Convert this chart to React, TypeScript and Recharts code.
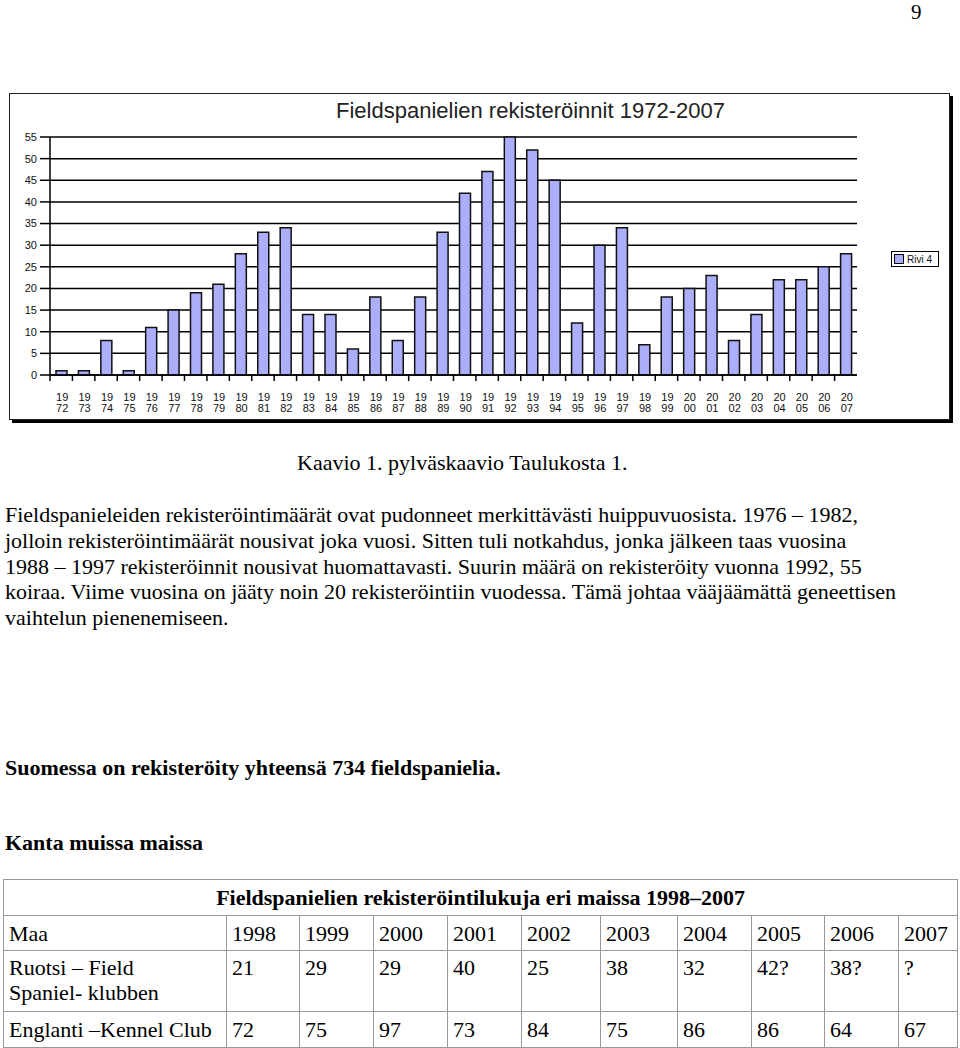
import React from "react";
import { BarChart, Bar, XAxis, YAxis, CartesianGrid, Legend } from "recharts";

const years = [
  "1972", "1973", "1974", "1975", "1976", "1977", "1978", "1979", "1980",
  "1981", "1982", "1983", "1984", "1985", "1986", "1987", "1988", "1989",
  "1990", "1991", "1992", "1993", "1994", "1995", "1996", "1997", "1998",
  "1999", "2000", "2001", "2002", "2003", "2004", "2005", "2006", "2007",
];
const registrations = [
  1, 1, 8, 1, 11, 15, 19, 21, 28, 33, 34, 14, 14, 6, 18, 8, 18, 33,
  42, 47, 55, 52, 45, 12, 30, 34, 7, 18, 20, 23, 8, 14, 22, 22, 25, 28,
];
const yTicks = [0, 5, 10, 15, 20, 25, 30, 35, 40, 45, 50, 55];

const tableYears = ["1998", "1999", "2000", "2001", "2002", "2003", "2004", "2005", "2006", "2007"];
const swedenValues = ["21", "29", "29", "40", "25", "38", "32", "42?", "38?", "?"];
const englandValues = ["72", "75", "97", "73", "84", "75", "86", "86", "64", "67"];
const colWidths = [223, 73, 74, 74, 74, 79, 77, 74, 73, 74, 59];

const chartData = years.map((y, i) => ({ year: y, value: registrations[i] }));

const SANS = '"Liberation Sans", Arial, sans-serif';
const SERIF = '"Liberation Serif", "Times New Roman", serif';
const BAR_FILL = "#abaffa";

const YearTick = (props: any) => {
  const { x, y, payload } = props;
  const half = payload && payload.offset ? payload.offset : 11.2;
  const s = String(payload.value);
  return (
    <g>
      <line x1={x - half} x2={x - half} y1={y} y2={y + 6} stroke="#000" strokeWidth={1.5} />
      <text x={x + 1} y={y + 22} textAnchor="middle" dominantBaseline="central" fontSize={11} fontFamily={SANS} fill="#111">
        {s.slice(0, 2)}
      </text>
      <text x={x + 1} y={y + 33} textAnchor="middle" dominantBaseline="central" fontSize={11} fontFamily={SANS} fill="#111">
        {s.slice(2)}
      </text>
    </g>
  );
};

const LegendBox = () => (
  <div
    style={{
      display: "flex",
      alignItems: "center",
      border: "1px solid #000",
      background: "#fff",
      height: 14,
      padding: "0 2px",
      fontFamily: SANS,
      fontSize: 10,
      color: "#111",
      whiteSpace: "nowrap",
    }}
  >
    <span style={{ display: "inline-block", width: 8, height: 8, background: BAR_FILL, border: "1px solid #000", marginRight: 3 }} />
    Rivi 4
  </div>
);

const paragraph = [
  "Fieldspanieleiden rekisteröintimäärät ovat pudonneet merkittävästi huippuvuosista. 1976 – 1982,",
  "jolloin rekisteröintimäärät nousivat joka vuosi. Sitten tuli notkahdus, jonka jälkeen taas vuosina",
  "1988 – 1997 rekisteröinnit nousivat huomattavasti. Suurin määrä on rekisteröity vuonna 1992, 55",
  "koiraa. Viime vuosina on jääty noin 20 rekisteröintiin vuodessa. Tämä johtaa vääjäämättä geneettisen",
  "vaihtelun pienenemiseen.",
];

const cell: React.CSSProperties = {
  border: "1px solid #999",
  padding: "0 0 0 5px",
  verticalAlign: "middle",
  textAlign: "left",
  whiteSpace: "nowrap",
};

export default function App() {
  return (
    <div
      style={{
        position: "absolute",
        left: 0,
        top: 0,
        width: 960,
        height: 1048,
        overflow: "hidden",
        background: "#fff",
        fontFamily: SERIF,
        fontSize: 22,
        color: "#000",
      }}
    >
      <div style={{ position: "absolute", left: 911, top: 0, fontSize: 21, lineHeight: "normal" }}>9</div>

      {/* chart frame */}
      <div
        style={{
          position: "absolute",
          left: 9,
          top: 93,
          width: 939,
          height: 325,
          border: "1px solid #222",
          boxShadow: "3px 3px 0 #000",
          background: "#fff",
        }}
      >
        <div
          style={{
            position: "absolute",
            left: 326,
            top: 4,
            fontFamily: SANS,
            fontSize: 22,
            lineHeight: "26px",
            color: "#222",
            whiteSpace: "nowrap",
          }}
        >
          Fieldspanielien rekisteröinnit 1972-2007
        </div>
        <BarChart width={939} height={325} data={chartData} margin={{ top: 43, right: 92, left: 10, bottom: 6 }}>
          <CartesianGrid horizontal vertical={false} stroke="#000" strokeWidth={1.5} />
          <XAxis
            dataKey="year"
            interval={0}
            height={38}
            tickSize={0}
            tickMargin={0}
            tickLine={false}
            axisLine={{ stroke: "#000", strokeWidth: 1.5 }}
            tick={<YearTick />}
          />
          <YAxis
            width={30}
            domain={[0, 55]}
            ticks={yTicks}
            interval={0}
            tickSize={10}
            tickMargin={3}
            axisLine={{ stroke: "#000", strokeWidth: 1.5 }}
            tickLine={{ stroke: "#000", strokeWidth: 1.5 }}
            tick={{ fontSize: 11, fontFamily: SANS, fill: "#111" }}
          />
          <Legend
            layout="horizontal"
            verticalAlign="middle"
            align="center"
            width={48}
            height={16}
            wrapperStyle={{ left: 881, top: 157 }}
            content={() => <LegendBox />}
          />
          <Bar dataKey="value" name="Rivi 4" fill={BAR_FILL} stroke="#111" strokeWidth={1.5} barSize={11} isAnimationActive={false} />
        </BarChart>
      </div>

      <div style={{ position: "absolute", left: 297, top: 450, lineHeight: "26px", whiteSpace: "nowrap" }}>
        Kaavio 1. pylväskaavio Taulukosta 1.
      </div>

      <div style={{ position: "absolute", left: 5, top: 502, lineHeight: "25.8px" }}>
        {paragraph.map((line) => (
          <div key={line} style={{ whiteSpace: "nowrap" }}>
            {line}
          </div>
        ))}
      </div>

      <div style={{ position: "absolute", left: 5, top: 755, lineHeight: "26px", fontWeight: "bold", whiteSpace: "nowrap" }}>
        Suomessa on rekisteröity yhteensä 734 fieldspanielia.
      </div>
      <div style={{ position: "absolute", left: 5, top: 830, lineHeight: "26px", fontWeight: "bold", whiteSpace: "nowrap" }}>
        Kanta muissa maissa
      </div>

      <table
        style={{
          position: "absolute",
          left: 3,
          top: 879,
          width: 955,
          borderCollapse: "collapse",
          tableLayout: "fixed",
          fontFamily: SERIF,
          fontSize: 22,
          lineHeight: "25px",
        }}
      >
        <colgroup>
          {colWidths.map((w, i) => (
            <col key={i} style={{ width: w }} />
          ))}
        </colgroup>
        <tbody>
          <tr style={{ height: 36 }}>
            <td colSpan={11} style={{ ...cell, textAlign: "center", fontWeight: "bold", padding: 0 }}>
              Fieldspanielien rekisteröintilukuja eri maissa 1998–2007
            </td>
          </tr>
          <tr style={{ height: 35 }}>
            <td style={cell}>Maa</td>
            {tableYears.map((y) => (
              <td key={y} style={cell}>{y}</td>
            ))}
          </tr>
          <tr style={{ height: 61 }}>
            <td style={{ ...cell, verticalAlign: "top", paddingTop: 4 }}>
              Ruotsi – Field
              <br />
              Spaniel- klubben
            </td>
            {swedenValues.map((v, i) => (
              <td key={i} style={{ ...cell, verticalAlign: "top", paddingTop: 4 }}>{v}</td>
            ))}
          </tr>
          <tr style={{ height: 36 }}>
            <td style={cell}>Englanti –Kennel Club</td>
            {englandValues.map((v, i) => (
              <td key={i} style={cell}>{v}</td>
            ))}
          </tr>
        </tbody>
      </table>
    </div>
  );
}
